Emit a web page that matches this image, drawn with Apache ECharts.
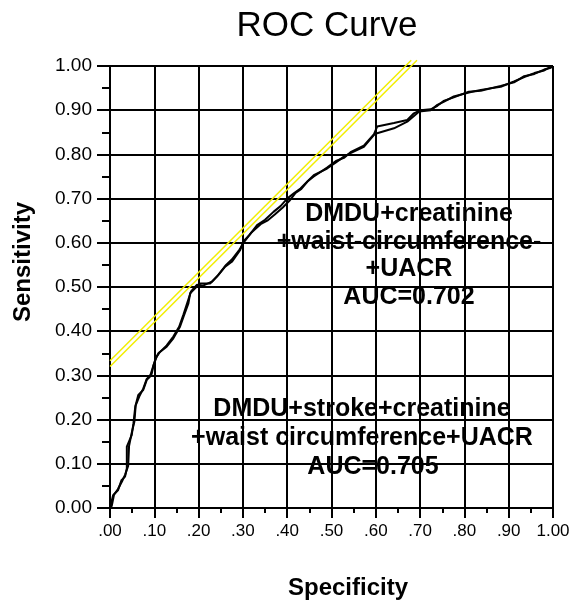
<!DOCTYPE html>
<html>
<head>
<meta charset="utf-8">
<script src="https://cdn.jsdelivr.net/npm/echarts@6/dist/echarts.min.js"></script>
<style>
html,body{margin:0;padding:0;background:#fff;}
#chart{width:573px;height:603px;}
</style>
</head>
<body>
<div id="chart"></div>
<script>
// ---- data ----
const titleText = 'ROC Curve';
const xAxisName = 'Specificity';
const yAxisName = 'Sensitivity';
const xTickLabels = ['.00','.10','.20','.30','.40','.50','.60','.70','.80','.90','1.00'];
const yTickLabels = ['0.00','0.10','0.20','0.30','0.40','0.50','0.60','0.70','0.80','0.90','1.00'];

// ROC curve 1: DMDU+creatinine+waist-circumference+UACR (AUC=0.702)
const curveA = [
  [0,0],[0.004,0.003],[0.007,0.029],[0.018,0.04],[0.026,0.063],[0.034,0.071],[0.038,0.09],
  [0.038,0.139],[0.049,0.165],[0.053,0.192],[0.057,0.229],[0.064,0.256],[0.075,0.267],
  [0.083,0.29],[0.090,0.297],[0.102,0.335],[0.109,0.35],[0.128,0.365],[0.143,0.384],
  [0.158,0.41],[0.166,0.433],[0.177,0.463],[0.181,0.486],[0.196,0.501],[0.204,0.508],
  [0.226,0.508],[0.241,0.523],[0.26,0.546],[0.275,0.557],[0.294,0.584],[0.301,0.603],
  [0.315,0.618],[0.332,0.64],[0.35,0.652],[0.369,0.67],[0.385,0.683],[0.4,0.70],[0.415,0.712],
  [0.43,0.723],[0.445,0.738],[0.46,0.753],[0.49,0.768],[0.51,0.782],[0.528,0.795],[0.543,0.803],
  [0.573,0.817],[0.596,0.844],[0.603,0.848],[0.641,0.859],[0.671,0.874],[0.698,0.897],
  [0.724,0.90],[0.739,0.912],[0.753,0.919],[0.776,0.931],[0.81,0.94],[0.837,0.946],
  [0.882,0.953],[0.912,0.965],[0.935,0.975],[0.958,0.984],[0.98,0.99],[0.995,0.998],[1,1]
];
// ROC curve 2: DMDU+stroke+creatinine+waist circumference+UACR (AUC=0.705)
const curveB = [
  [0,0],[0.004,0.005],[0.009,0.03],[0.018,0.043],[0.027,0.06],[0.034,0.075],[0.041,0.095],
  [0.043,0.14],[0.049,0.17],[0.055,0.195],[0.058,0.232],[0.066,0.252],[0.075,0.27],
  [0.083,0.292],[0.094,0.303],[0.098,0.322],[0.105,0.342],[0.112,0.352],[0.128,0.368],[0.143,0.388],
  [0.156,0.41],[0.166,0.438],[0.175,0.466],[0.183,0.49],[0.196,0.505],[0.21,0.503],
  [0.23,0.512],[0.245,0.528],[0.262,0.55],[0.275,0.562],[0.292,0.584],[0.305,0.605],
  [0.318,0.622],[0.34,0.642],[0.355,0.65],[0.372,0.664],[0.39,0.68],[0.405,0.695],[0.418,0.712],
  [0.432,0.722],[0.447,0.74],[0.46,0.75],[0.49,0.77],[0.51,0.785],[0.528,0.792],[0.543,0.805],
  [0.573,0.82],[0.596,0.846],[0.603,0.863],[0.641,0.871],[0.671,0.878],[0.686,0.893],
  [0.701,0.90],[0.724,0.902],[0.739,0.91],[0.753,0.921],[0.776,0.929],[0.81,0.942],[0.837,0.944],
  [0.882,0.955],[0.912,0.963],[0.935,0.977],[0.958,0.982],[0.98,0.992],[0.995,0.996],[1,1]
];
// two yellow reference (tangent) lines
const refLine1 = [[0,0.333],[0.68,1.013]];
const refLine2 = [[0,0.32],[0.693,1.013]];

const annot1 = ['DMDU+creatinine','+waist-circumference-','+UACR','AUC=0.702'];
const annot2 = ['DMDU+stroke+creatinine','+waist circumference+UACR','AUC=0.705'];

// ---- chart ----
const chart = echarts.init(document.getElementById('chart'), null, {renderer:'canvas'});
const FONT = 'Liberation Sans, Arial, sans-serif';
const black = '#000';
function axisCommon(labels, fontSize, margin, tickLen, minorLen){
  return {
    type:'value', min:0, max:1, interval:0.1,
    axisLine:{show:true, onZero:false, lineStyle:{color:black, width:2}},
    axisTick:{show:true, length:tickLen, lineStyle:{color:black, width:2}},
    minorTick:{show:true, splitNumber:2, length:minorLen, lineStyle:{color:black, width:2}},
    splitLine:{show:true, lineStyle:{color:black, width:2}},
    axisLabel:{
      color:black, fontFamily:FONT, fontSize:fontSize, margin:margin,
      formatter:function(v){ return labels[Math.round(v*10)]; }
    }
  };
}
const annotGraphics = [];
const a1y = [214, 242, 269, 297];
annot1.forEach(function(t,i){
  annotGraphics.push({type:'text', x:409, y:a1y[i], style:{text:t, fill:black, font:'bold 25px '+FONT, align:'center', verticalAlign:'middle'}});
});
const a2y = [409, 438, 467];
const a2x = [362, 362, 373];
annot2.forEach(function(t,i){
  annotGraphics.push({type:'text', x:a2x[i], y:a2y[i], style:{text:t, fill:black, font:'bold 25px '+FONT, align:'center', verticalAlign:'middle'}});
});

const option = {
  backgroundColor:'#fff',
  animation:false,
  grid:{left:110, right:20, top:66, bottom:95, containLabel:false},
  xAxis: axisCommon(xTickLabels, 17, 15, 10, 5),
  yAxis: axisCommon(yTickLabels, 19, 18, 13, 8),
  graphic: [
    {type:'text', x:327, y:26, style:{text:titleText, fill:black, font:'35px '+FONT, align:'center', verticalAlign:'middle'}},
    {type:'text', x:348, y:588, style:{text:xAxisName, fill:black, font:'bold 24px '+FONT, align:'center', verticalAlign:'middle'}},
    {type:'text', x:23, y:262, rotation:Math.PI/2, style:{text:yAxisName, fill:black, font:'bold 24px '+FONT, align:'center', verticalAlign:'middle'}}
  ].concat(annotGraphics),
  series:[
    {type:'line', data:refLine1, symbol:'none', clip:false, lineStyle:{color:'#f2ee00', width:1.5}, z:3},
    {type:'line', data:refLine2, symbol:'none', clip:false, lineStyle:{color:'#f2ee00', width:1.5}, z:3},
    {type:'line', data:curveA, symbol:'none', lineStyle:{color:black, width:2}, z:4},
    {type:'line', data:curveB, symbol:'none', lineStyle:{color:black, width:2}, z:4}
  ]
};
chart.setOption(option);
</script>
</body>
</html>
